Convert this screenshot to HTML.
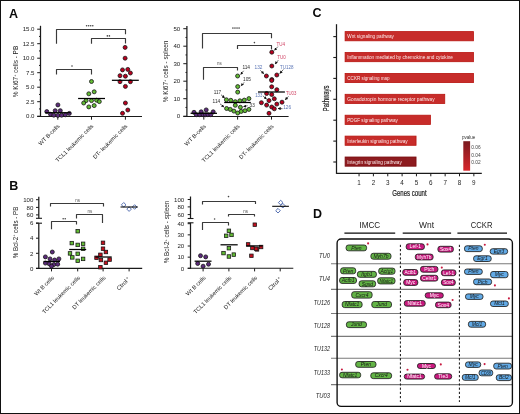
<!DOCTYPE html>
<html><head><meta charset="utf-8"><style>
html,body{margin:0;padding:0;background:#fff;}
body{width:520px;height:414px;overflow:hidden;}
svg{display:block;font-family:"Liberation Sans", sans-serif;will-change:transform;}
</style></head><body>
<svg width="520" height="414" viewBox="0 0 520 414">
<rect x="0" y="0" width="520" height="414" fill="#fff"/>
<defs><marker id="ah" viewBox="0 0 6 6" refX="5" refY="3" markerWidth="4.6" markerHeight="4.6" orient="auto"><path d="M0 0 L6 3 L0 6 Z" fill="#111"/></marker></defs>
<text x="9.0" y="17.6" font-size="12.5" text-anchor="start" fill="#0a0a0a" font-weight="bold">A</text>
<line x1="40.5" y1="25.8" x2="40.5" y2="116.7" stroke="#1a1a1a" stroke-width="1.25"/>
<line x1="37.2" y1="116.2" x2="40.5" y2="116.2" stroke="#1a1a1a" stroke-width="1.0"/>
<text x="34.5" y="118.4" font-size="6.1" text-anchor="end" fill="#222" >0.0</text>
<line x1="37.2" y1="101.7" x2="40.5" y2="101.7" stroke="#1a1a1a" stroke-width="1.0"/>
<text x="34.5" y="103.9" font-size="6.1" text-anchor="end" fill="#222" >2.5</text>
<line x1="37.2" y1="87.2" x2="40.5" y2="87.2" stroke="#1a1a1a" stroke-width="1.0"/>
<text x="34.5" y="89.4" font-size="6.1" text-anchor="end" fill="#222" >5.0</text>
<line x1="37.2" y1="72.7" x2="40.5" y2="72.7" stroke="#1a1a1a" stroke-width="1.0"/>
<text x="34.5" y="74.9" font-size="6.1" text-anchor="end" fill="#222" >7.5</text>
<line x1="37.2" y1="58.2" x2="40.5" y2="58.2" stroke="#1a1a1a" stroke-width="1.0"/>
<text x="34.5" y="60.400000000000006" font-size="6.1" text-anchor="end" fill="#222" >10.0</text>
<line x1="37.2" y1="43.7" x2="40.5" y2="43.7" stroke="#1a1a1a" stroke-width="1.0"/>
<text x="34.5" y="45.900000000000006" font-size="6.1" text-anchor="end" fill="#222" >12.5</text>
<line x1="37.2" y1="29.200000000000003" x2="40.5" y2="29.200000000000003" stroke="#1a1a1a" stroke-width="1.0"/>
<text x="34.5" y="31.400000000000002" font-size="6.1" text-anchor="end" fill="#222" >15.0</text>
<line x1="39.0" y1="108.95" x2="40.5" y2="108.95" stroke="#1a1a1a" stroke-width="1.0"/>
<line x1="39.0" y1="94.45" x2="40.5" y2="94.45" stroke="#1a1a1a" stroke-width="1.0"/>
<line x1="39.0" y1="79.95" x2="40.5" y2="79.95" stroke="#1a1a1a" stroke-width="1.0"/>
<line x1="39.0" y1="65.45" x2="40.5" y2="65.45" stroke="#1a1a1a" stroke-width="1.0"/>
<line x1="39.0" y1="50.95" x2="40.5" y2="50.95" stroke="#1a1a1a" stroke-width="1.0"/>
<line x1="39.0" y1="36.45" x2="40.5" y2="36.45" stroke="#1a1a1a" stroke-width="1.0"/>
<line x1="37.2" y1="116.5" x2="142" y2="116.5" stroke="#1a1a1a" stroke-width="1.1"/>
<line x1="57.8" y1="116.5" x2="57.8" y2="119.7" stroke="#1a1a1a" stroke-width="1.0"/>
<line x1="91.5" y1="116.5" x2="91.5" y2="119.7" stroke="#1a1a1a" stroke-width="1.0"/>
<line x1="125.4" y1="116.5" x2="125.4" y2="119.7" stroke="#1a1a1a" stroke-width="1.0"/>
<path d="M56.5 43.8 L56.5 29.5 L125.5 29.5 L125.5 34.2" fill="none" stroke="#3a3a3a" stroke-width="1.15" stroke-linejoin="round"/>
<path d="M91.5 43.8 L91.5 38.5 L125.5 38.5 L125.5 43.6" fill="none" stroke="#3a3a3a" stroke-width="1.15" stroke-linejoin="round"/>
<path d="M56.5 74.6 L56.5 69.5 L91.5 69.5 L91.5 74.6" fill="none" stroke="#3a3a3a" stroke-width="1.15" stroke-linejoin="round"/>
<circle cx="86.62" cy="25.7" r="0.8" fill="#444"/>
<circle cx="88.67" cy="25.7" r="0.8" fill="#444"/>
<circle cx="90.72" cy="25.7" r="0.8" fill="#444"/>
<circle cx="92.78" cy="25.7" r="0.8" fill="#444"/>
<circle cx="107.38" cy="35.9" r="0.8" fill="#444"/>
<circle cx="109.42" cy="35.9" r="0.8" fill="#444"/>
<circle cx="72.00" cy="66" r="0.8" fill="#444"/>
<circle cx="57.9" cy="104.9" r="2.0" fill="#5c2a7c" stroke="#161616" stroke-width="0.8"/>
<circle cx="55.2" cy="110.7" r="2.0" fill="#5c2a7c" stroke="#161616" stroke-width="0.8"/>
<circle cx="60.3" cy="110.7" r="2.0" fill="#5c2a7c" stroke="#161616" stroke-width="0.8"/>
<circle cx="46.8" cy="111.6" r="2.0" fill="#5c2a7c" stroke="#161616" stroke-width="0.8"/>
<circle cx="69.3" cy="113.4" r="2.0" fill="#5c2a7c" stroke="#161616" stroke-width="0.8"/>
<circle cx="50.5" cy="114.3" r="2.0" fill="#5c2a7c" stroke="#161616" stroke-width="0.8"/>
<circle cx="53.8" cy="115.2" r="2.0" fill="#5c2a7c" stroke="#161616" stroke-width="0.8"/>
<circle cx="57.9" cy="115.4" r="2.0" fill="#5c2a7c" stroke="#161616" stroke-width="0.8"/>
<circle cx="61.6" cy="115.2" r="2.0" fill="#5c2a7c" stroke="#161616" stroke-width="0.8"/>
<circle cx="65.3" cy="114.8" r="2.0" fill="#5c2a7c" stroke="#161616" stroke-width="0.8"/>
<line x1="45.1" y1="112.7" x2="70.7" y2="112.7" stroke="#000" stroke-width="1.25"/>
<circle cx="91.5" cy="81.5" r="2.0" fill="#62bb34" stroke="#161616" stroke-width="0.8"/>
<circle cx="88.8" cy="93.8" r="2.0" fill="#62bb34" stroke="#161616" stroke-width="0.8"/>
<circle cx="94.2" cy="91.8" r="2.0" fill="#62bb34" stroke="#161616" stroke-width="0.8"/>
<circle cx="86.1" cy="100.6" r="2.0" fill="#62bb34" stroke="#161616" stroke-width="0.8"/>
<circle cx="91.5" cy="100.6" r="2.0" fill="#62bb34" stroke="#161616" stroke-width="0.8"/>
<circle cx="96.6" cy="100.2" r="2.0" fill="#62bb34" stroke="#161616" stroke-width="0.8"/>
<circle cx="99.3" cy="101.6" r="2.0" fill="#62bb34" stroke="#161616" stroke-width="0.8"/>
<circle cx="83.7" cy="103" r="2.0" fill="#62bb34" stroke="#161616" stroke-width="0.8"/>
<circle cx="88.8" cy="106.9" r="2.0" fill="#62bb34" stroke="#161616" stroke-width="0.8"/>
<circle cx="94.2" cy="105.6" r="2.0" fill="#62bb34" stroke="#161616" stroke-width="0.8"/>
<line x1="78.1" y1="98.5" x2="105" y2="98.5" stroke="#000" stroke-width="1.25"/>
<circle cx="125.1" cy="47.4" r="2.0" fill="#b9001f" stroke="#161616" stroke-width="0.8"/>
<circle cx="125.1" cy="58.2" r="2.0" fill="#b9001f" stroke="#161616" stroke-width="0.8"/>
<circle cx="122.5" cy="69.9" r="2.0" fill="#b9001f" stroke="#161616" stroke-width="0.8"/>
<circle cx="127.8" cy="69.4" r="2.0" fill="#b9001f" stroke="#161616" stroke-width="0.8"/>
<circle cx="130.4" cy="73" r="2.0" fill="#b9001f" stroke="#161616" stroke-width="0.8"/>
<circle cx="120" cy="75.7" r="2.0" fill="#b9001f" stroke="#161616" stroke-width="0.8"/>
<circle cx="125.4" cy="76.2" r="2.0" fill="#b9001f" stroke="#161616" stroke-width="0.8"/>
<circle cx="120" cy="81.7" r="2.0" fill="#b9001f" stroke="#161616" stroke-width="0.8"/>
<circle cx="130.4" cy="81.7" r="2.0" fill="#b9001f" stroke="#161616" stroke-width="0.8"/>
<circle cx="125.4" cy="86.4" r="2.0" fill="#b9001f" stroke="#161616" stroke-width="0.8"/>
<circle cx="125.4" cy="103" r="2.0" fill="#b9001f" stroke="#161616" stroke-width="0.8"/>
<circle cx="127.8" cy="110" r="2.0" fill="#b9001f" stroke="#161616" stroke-width="0.8"/>
<circle cx="122.5" cy="113.3" r="2.0" fill="#b9001f" stroke="#161616" stroke-width="0.8"/>
<line x1="111.9" y1="80.3" x2="138.8" y2="80.3" stroke="#000" stroke-width="1.25"/>
<text transform="translate(18.2,71.5) rotate(-90)" font-size="7" text-anchor="middle" fill="#222" textLength="51.3" lengthAdjust="spacingAndGlyphs">% Ki67<tspan font-size="4" dy="-2.2">+</tspan><tspan dy="2.2"> cells - PB</tspan></text>
<text transform="translate(60,126.5) rotate(-45)" font-size="5.7" text-anchor="end" fill="#222">WT B-cells</text>
<text transform="translate(93.8,126.5) rotate(-45)" font-size="5.7" text-anchor="end" fill="#222">TCL1 leukemic cells</text>
<text transform="translate(127.8,126.5) rotate(-45)" font-size="5.7" text-anchor="end" fill="#222">DT- leukemic cells</text>
<line x1="186.9" y1="26" x2="186.9" y2="116.7" stroke="#1a1a1a" stroke-width="1.25"/>
<line x1="183.3" y1="116.2" x2="186.9" y2="116.2" stroke="#1a1a1a" stroke-width="1.0"/>
<text x="180.2" y="118.4" font-size="6.1" text-anchor="end" fill="#222" >0</text>
<line x1="183.3" y1="98.7" x2="186.9" y2="98.7" stroke="#1a1a1a" stroke-width="1.0"/>
<text x="180.2" y="100.9" font-size="6.1" text-anchor="end" fill="#222" >10</text>
<line x1="183.3" y1="81.2" x2="186.9" y2="81.2" stroke="#1a1a1a" stroke-width="1.0"/>
<text x="180.2" y="83.4" font-size="6.1" text-anchor="end" fill="#222" >20</text>
<line x1="183.3" y1="63.7" x2="186.9" y2="63.7" stroke="#1a1a1a" stroke-width="1.0"/>
<text x="180.2" y="65.9" font-size="6.1" text-anchor="end" fill="#222" >30</text>
<line x1="183.3" y1="46.2" x2="186.9" y2="46.2" stroke="#1a1a1a" stroke-width="1.0"/>
<text x="180.2" y="48.400000000000006" font-size="6.1" text-anchor="end" fill="#222" >40</text>
<line x1="183.3" y1="28.700000000000003" x2="186.9" y2="28.700000000000003" stroke="#1a1a1a" stroke-width="1.0"/>
<text x="180.2" y="30.900000000000002" font-size="6.1" text-anchor="end" fill="#222" >50</text>
<line x1="185.5" y1="107.45" x2="186.9" y2="107.45" stroke="#1a1a1a" stroke-width="1.0"/>
<line x1="185.5" y1="89.95" x2="186.9" y2="89.95" stroke="#1a1a1a" stroke-width="1.0"/>
<line x1="185.5" y1="72.45" x2="186.9" y2="72.45" stroke="#1a1a1a" stroke-width="1.0"/>
<line x1="185.5" y1="54.95" x2="186.9" y2="54.95" stroke="#1a1a1a" stroke-width="1.0"/>
<line x1="185.5" y1="37.45" x2="186.9" y2="37.45" stroke="#1a1a1a" stroke-width="1.0"/>
<line x1="183.3" y1="116.5" x2="288.6" y2="116.5" stroke="#1a1a1a" stroke-width="1.1"/>
<line x1="203.8" y1="116.5" x2="203.8" y2="119.6" stroke="#1a1a1a" stroke-width="1.0"/>
<line x1="237.6" y1="116.5" x2="237.6" y2="119.6" stroke="#1a1a1a" stroke-width="1.0"/>
<line x1="271.5" y1="116.5" x2="271.5" y2="119.6" stroke="#1a1a1a" stroke-width="1.0"/>
<path d="M202.5 48.6 L202.5 33.5 L271.5 33.5 L271.5 38.3" fill="none" stroke="#3a3a3a" stroke-width="1.15" stroke-linejoin="round"/>
<path d="M237.5 49 L237.5 45.5 L271.5 45.5 L271.5 49.3" fill="none" stroke="#3a3a3a" stroke-width="1.15" stroke-linejoin="round"/>
<path d="M203.5 79.8 L203.5 67.5 L237.5 67.5 L237.5 70.4" fill="none" stroke="#3a3a3a" stroke-width="1.15" stroke-linejoin="round"/>
<circle cx="232.93" cy="28.1" r="0.8" fill="#444"/>
<circle cx="234.98" cy="28.1" r="0.8" fill="#444"/>
<circle cx="237.03" cy="28.1" r="0.8" fill="#444"/>
<circle cx="239.08" cy="28.1" r="0.8" fill="#444"/>
<circle cx="254.40" cy="42.6" r="0.8" fill="#444"/>
<text x="219.3" y="64.5" font-size="4.5" text-anchor="middle" fill="#555" >ns</text>
<circle cx="194" cy="112.3" r="2.0" fill="#5c2a7c" stroke="#161616" stroke-width="0.8"/>
<circle cx="201.2" cy="111.8" r="2.0" fill="#5c2a7c" stroke="#161616" stroke-width="0.8"/>
<circle cx="206.2" cy="109.9" r="2.0" fill="#5c2a7c" stroke="#161616" stroke-width="0.8"/>
<circle cx="213.2" cy="111.8" r="2.0" fill="#5c2a7c" stroke="#161616" stroke-width="0.8"/>
<circle cx="196.3" cy="114.7" r="2.0" fill="#5c2a7c" stroke="#161616" stroke-width="0.8"/>
<circle cx="199.7" cy="114.7" r="2.0" fill="#5c2a7c" stroke="#161616" stroke-width="0.8"/>
<circle cx="203" cy="114.7" r="2.0" fill="#5c2a7c" stroke="#161616" stroke-width="0.8"/>
<circle cx="205.5" cy="114.7" r="2.0" fill="#5c2a7c" stroke="#161616" stroke-width="0.8"/>
<circle cx="207.9" cy="114.7" r="2.0" fill="#5c2a7c" stroke="#161616" stroke-width="0.8"/>
<circle cx="210.8" cy="114.7" r="2.0" fill="#5c2a7c" stroke="#161616" stroke-width="0.8"/>
<line x1="190.6" y1="113.3" x2="217" y2="113.3" stroke="#000" stroke-width="1.25"/>
<circle cx="237.7" cy="86.6" r="2.0" fill="#62bb34" stroke="#161616" stroke-width="0.8"/>
<circle cx="237.7" cy="92.1" r="2.0" fill="#62bb34" stroke="#161616" stroke-width="0.8"/>
<circle cx="226.4" cy="99.8" r="2.0" fill="#62bb34" stroke="#161616" stroke-width="0.8"/>
<circle cx="230.8" cy="100.3" r="2.0" fill="#62bb34" stroke="#161616" stroke-width="0.8"/>
<circle cx="235.3" cy="101.7" r="2.0" fill="#62bb34" stroke="#161616" stroke-width="0.8"/>
<circle cx="239.9" cy="100.8" r="2.0" fill="#62bb34" stroke="#161616" stroke-width="0.8"/>
<circle cx="244.3" cy="100.1" r="2.0" fill="#62bb34" stroke="#161616" stroke-width="0.8"/>
<circle cx="248.9" cy="98.6" r="2.0" fill="#62bb34" stroke="#161616" stroke-width="0.8"/>
<circle cx="235.3" cy="105.3" r="2.0" fill="#62bb34" stroke="#161616" stroke-width="0.8"/>
<circle cx="240.4" cy="107.3" r="2.0" fill="#62bb34" stroke="#161616" stroke-width="0.8"/>
<circle cx="226.6" cy="108.5" r="2.0" fill="#62bb34" stroke="#161616" stroke-width="0.8"/>
<circle cx="230.3" cy="109.4" r="2.0" fill="#62bb34" stroke="#161616" stroke-width="0.8"/>
<circle cx="233.9" cy="111.1" r="2.0" fill="#62bb34" stroke="#161616" stroke-width="0.8"/>
<circle cx="237.7" cy="113" r="2.0" fill="#62bb34" stroke="#161616" stroke-width="0.8"/>
<circle cx="241.2" cy="111.4" r="2.0" fill="#62bb34" stroke="#161616" stroke-width="0.8"/>
<circle cx="245" cy="110.7" r="2.0" fill="#62bb34" stroke="#161616" stroke-width="0.8"/>
<circle cx="248.9" cy="109.4" r="2.0" fill="#62bb34" stroke="#161616" stroke-width="0.8"/>
<circle cx="237.6" cy="76" r="2.0" fill="#62bb34" stroke="#161616" stroke-width="0.8"/>
<line x1="224.2" y1="102.5" x2="250.8" y2="102.5" stroke="#000" stroke-width="1.25"/>
<circle cx="271.8" cy="52.2" r="2.0" fill="#b9001f" stroke="#161616" stroke-width="0.8"/>
<circle cx="271.8" cy="66" r="2.0" fill="#b9001f" stroke="#161616" stroke-width="0.8"/>
<circle cx="276.8" cy="75" r="2.0" fill="#b9001f" stroke="#161616" stroke-width="0.8"/>
<circle cx="266.4" cy="76" r="2.0" fill="#b9001f" stroke="#161616" stroke-width="0.8"/>
<circle cx="271.8" cy="79.5" r="2.0" fill="#b9001f" stroke="#161616" stroke-width="0.8"/>
<circle cx="271.7" cy="86.8" r="2.0" fill="#b9001f" stroke="#161616" stroke-width="0.8"/>
<circle cx="276.8" cy="89.7" r="2.0" fill="#b9001f" stroke="#161616" stroke-width="0.8"/>
<circle cx="266.6" cy="93.5" r="2.0" fill="#b9001f" stroke="#161616" stroke-width="0.8"/>
<circle cx="271.7" cy="94.5" r="2.0" fill="#b9001f" stroke="#161616" stroke-width="0.8"/>
<circle cx="274.3" cy="98.8" r="2.0" fill="#b9001f" stroke="#161616" stroke-width="0.8"/>
<circle cx="269" cy="100.6" r="2.0" fill="#b9001f" stroke="#161616" stroke-width="0.8"/>
<circle cx="261.4" cy="102.7" r="2.0" fill="#b9001f" stroke="#161616" stroke-width="0.8"/>
<circle cx="282" cy="102.2" r="2.0" fill="#b9001f" stroke="#161616" stroke-width="0.8"/>
<circle cx="266.6" cy="105.1" r="2.0" fill="#b9001f" stroke="#161616" stroke-width="0.8"/>
<circle cx="276.8" cy="104.1" r="2.0" fill="#b9001f" stroke="#161616" stroke-width="0.8"/>
<circle cx="271.7" cy="107" r="2.0" fill="#b9001f" stroke="#161616" stroke-width="0.8"/>
<circle cx="274.3" cy="108.8" r="2.0" fill="#b9001f" stroke="#161616" stroke-width="0.8"/>
<circle cx="269" cy="113.3" r="2.0" fill="#b9001f" stroke="#161616" stroke-width="0.8"/>
<circle cx="271.7" cy="80.5" r="2.0" fill="#b9001f" stroke="#161616" stroke-width="0.8"/>
<line x1="258" y1="92" x2="284.9" y2="92" stroke="#000" stroke-width="1.25"/>
<text x="276.6" y="45.9" font-size="5" text-anchor="start" fill="#cf4062" textLength="8.50" lengthAdjust="spacingAndGlyphs">TU4</text>
<line x1="277.9" y1="46.6" x2="274.6" y2="50.2" stroke="#111" stroke-width="0.65" marker-end="url(#ah)"/>
<text x="277.3" y="59.0" font-size="5" text-anchor="start" fill="#cf4062" textLength="8.50" lengthAdjust="spacingAndGlyphs">TU0</text>
<line x1="278.3" y1="60.2" x2="275.2" y2="63.8" stroke="#111" stroke-width="0.65" marker-end="url(#ah)"/>
<text x="279.90000000000003" y="68.7" font-size="5" text-anchor="start" fill="#5b75b5" textLength="13.50" lengthAdjust="spacingAndGlyphs">TU128</text>
<line x1="283.4" y1="69.5" x2="279.9" y2="73.3" stroke="#111" stroke-width="0.65" marker-end="url(#ah)"/>
<text x="254.5" y="69.2" font-size="5" text-anchor="start" fill="#5b75b5" textLength="7.90" lengthAdjust="spacingAndGlyphs">132</text>
<line x1="260.4" y1="70.4" x2="263.7" y2="73.7" stroke="#111" stroke-width="0.65" marker-end="url(#ah)"/>
<text x="285.90000000000003" y="95.2" font-size="5" text-anchor="start" fill="#cf4062" textLength="10.50" lengthAdjust="spacingAndGlyphs">TU03</text>
<line x1="288.5" y1="96.4" x2="285.3" y2="99.7" stroke="#111" stroke-width="0.65" marker-end="url(#ah)"/>
<text x="255.20000000000002" y="97.4" font-size="5" text-anchor="start" fill="#5b75b5" textLength="7.20" lengthAdjust="spacingAndGlyphs">133</text>
<line x1="263.1" y1="96" x2="266.4" y2="99" stroke="#111" stroke-width="0.65" marker-end="url(#ah)"/>
<text x="283.2" y="108.9" font-size="5" text-anchor="start" fill="#5b75b5" textLength="7.90" lengthAdjust="spacingAndGlyphs">126</text>
<line x1="282.5" y1="108.7" x2="278.2" y2="108.5" stroke="#111" stroke-width="0.65" marker-end="url(#ah)"/>
<text x="242.4" y="69.2" font-size="5" text-anchor="start" fill="#2a2a2a" textLength="7.60" lengthAdjust="spacingAndGlyphs">114</text>
<line x1="243.6" y1="70.8" x2="240.8" y2="74.4" stroke="#111" stroke-width="0.65" marker-end="url(#ah)"/>
<text x="243.0" y="81.1" font-size="5" text-anchor="start" fill="#2a2a2a" textLength="7.90" lengthAdjust="spacingAndGlyphs">105</text>
<line x1="244.1" y1="82.4" x2="241.2" y2="85.7" stroke="#111" stroke-width="0.65" marker-end="url(#ah)"/>
<text x="213.8" y="94.3" font-size="5" text-anchor="start" fill="#2a2a2a" textLength="7.40" lengthAdjust="spacingAndGlyphs">117</text>
<line x1="221" y1="94.7" x2="224.5" y2="97.9" stroke="#111" stroke-width="0.65" marker-end="url(#ah)"/>
<text x="212.60000000000002" y="103.4" font-size="5" text-anchor="start" fill="#2a2a2a" textLength="7.60" lengthAdjust="spacingAndGlyphs">114</text>
<line x1="220" y1="103.8" x2="223.8" y2="106.9" stroke="#111" stroke-width="0.65" marker-end="url(#ah)"/>
<text x="249.60000000000002" y="107.3" font-size="5" text-anchor="start" fill="#2a2a2a" textLength="5.20" lengthAdjust="spacingAndGlyphs">33</text>
<line x1="247.6" y1="105.7" x2="243.6" y2="106.7" stroke="#111" stroke-width="0.65" marker-end="url(#ah)"/>
<text transform="translate(168.2,71.5) rotate(-90)" font-size="7" text-anchor="middle" fill="#222" textLength="61.6" lengthAdjust="spacingAndGlyphs">% Ki67<tspan font-size="4" dy="-2.2">+</tspan><tspan dy="2.2"> cells - spleen</tspan></text>
<text transform="translate(206.2,126.8) rotate(-45)" font-size="5.7" text-anchor="end" fill="#222">WT B-cells</text>
<text transform="translate(240,126.8) rotate(-45)" font-size="5.7" text-anchor="end" fill="#222">TCL1 leukemic cells</text>
<text transform="translate(273.9,126.8) rotate(-45)" font-size="5.7" text-anchor="end" fill="#222">DT- leukemic cells</text>
<text x="312.6" y="17.4" font-size="12.5" text-anchor="start" fill="#0a0a0a" font-weight="bold">C</text>
<line x1="336.5" y1="24.2" x2="336.5" y2="173.9" stroke="#1a1a1a" stroke-width="1.25"/>
<line x1="333.3" y1="36.6" x2="336.5" y2="36.6" stroke="#1a1a1a" stroke-width="1.1"/>
<rect x="345.1" y="31.6" width="128.35" height="9.2" fill="#c72c2a" stroke="#b8140f" stroke-width="0.8"/>
<text x="347.3" y="38.1" font-size="5.4" text-anchor="start" fill="#fbeaea" textLength="46.5" lengthAdjust="spacingAndGlyphs">Wnt signaling pathway</text>
<line x1="333.3" y1="57.5" x2="336.5" y2="57.5" stroke="#1a1a1a" stroke-width="1.1"/>
<rect x="345.1" y="52.5" width="128.35" height="9.2" fill="#c72c2a" stroke="#b8140f" stroke-width="0.8"/>
<text x="347.3" y="59.0" font-size="5.4" text-anchor="start" fill="#fbeaea" textLength="105.7" lengthAdjust="spacingAndGlyphs">Inflammation mediated by chemokine and cytokine</text>
<line x1="333.3" y1="78.4" x2="336.5" y2="78.4" stroke="#1a1a1a" stroke-width="1.1"/>
<rect x="345.1" y="73.4" width="128.35" height="9.2" fill="#c72c2a" stroke="#b8140f" stroke-width="0.8"/>
<text x="347.3" y="79.9" font-size="5.4" text-anchor="start" fill="#fbeaea" textLength="42.3" lengthAdjust="spacingAndGlyphs">CCKR signaling map</text>
<line x1="333.3" y1="99.30000000000001" x2="336.5" y2="99.30000000000001" stroke="#1a1a1a" stroke-width="1.1"/>
<rect x="345.1" y="94.30000000000001" width="99.65" height="9.2" fill="#c72c2a" stroke="#b8140f" stroke-width="0.8"/>
<text x="347.3" y="100.80000000000001" font-size="5.4" text-anchor="start" fill="#fbeaea" textLength="87.3" lengthAdjust="spacingAndGlyphs">Gonadotropin hormone receptor pathway</text>
<line x1="333.3" y1="120.2" x2="336.5" y2="120.2" stroke="#1a1a1a" stroke-width="1.1"/>
<rect x="345.1" y="115.2" width="85.30" height="9.2" fill="#c72c2a" stroke="#b8140f" stroke-width="0.8"/>
<text x="347.3" y="121.7" font-size="5.4" text-anchor="start" fill="#fbeaea" textLength="50.6" lengthAdjust="spacingAndGlyphs">PDGF signaling pathway</text>
<line x1="333.3" y1="141.1" x2="336.5" y2="141.1" stroke="#1a1a1a" stroke-width="1.1"/>
<rect x="345.1" y="136.1" width="70.95" height="9.2" fill="#c72c2a" stroke="#b8140f" stroke-width="0.8"/>
<text x="347.3" y="142.6" font-size="5.4" text-anchor="start" fill="#fbeaea" textLength="60.3" lengthAdjust="spacingAndGlyphs">Interleukin signaling pathway</text>
<line x1="333.3" y1="162.0" x2="336.5" y2="162.0" stroke="#1a1a1a" stroke-width="1.1"/>
<rect x="345.1" y="157.0" width="70.95" height="9.2" fill="#8d1b1f" stroke="#7a0d10" stroke-width="0.8"/>
<text x="347.3" y="163.5" font-size="5.4" text-anchor="start" fill="#fbeaea" textLength="54.5" lengthAdjust="spacingAndGlyphs">Integrin signaling pathway</text>
<line x1="336.5" y1="173.3" x2="481.8" y2="173.3" stroke="#1a1a1a" stroke-width="1.2"/>
<line x1="359.05" y1="173.3" x2="359.05" y2="176.3" stroke="#1a1a1a" stroke-width="1.0"/>
<text x="359.05" y="185" font-size="6.3" text-anchor="middle" fill="#1e1e1e" >1</text>
<line x1="373.4" y1="173.3" x2="373.4" y2="176.3" stroke="#1a1a1a" stroke-width="1.0"/>
<text x="373.4" y="185" font-size="6.3" text-anchor="middle" fill="#1e1e1e" >2</text>
<line x1="387.75" y1="173.3" x2="387.75" y2="176.3" stroke="#1a1a1a" stroke-width="1.0"/>
<text x="387.75" y="185" font-size="6.3" text-anchor="middle" fill="#1e1e1e" >3</text>
<line x1="402.09999999999997" y1="173.3" x2="402.09999999999997" y2="176.3" stroke="#1a1a1a" stroke-width="1.0"/>
<text x="402.09999999999997" y="185" font-size="6.3" text-anchor="middle" fill="#1e1e1e" >4</text>
<line x1="416.45" y1="173.3" x2="416.45" y2="176.3" stroke="#1a1a1a" stroke-width="1.0"/>
<text x="416.45" y="185" font-size="6.3" text-anchor="middle" fill="#1e1e1e" >5</text>
<line x1="430.79999999999995" y1="173.3" x2="430.79999999999995" y2="176.3" stroke="#1a1a1a" stroke-width="1.0"/>
<text x="430.79999999999995" y="185" font-size="6.3" text-anchor="middle" fill="#1e1e1e" >6</text>
<line x1="445.15" y1="173.3" x2="445.15" y2="176.3" stroke="#1a1a1a" stroke-width="1.0"/>
<text x="445.15" y="185" font-size="6.3" text-anchor="middle" fill="#1e1e1e" >7</text>
<line x1="459.5" y1="173.3" x2="459.5" y2="176.3" stroke="#1a1a1a" stroke-width="1.0"/>
<text x="459.5" y="185" font-size="6.3" text-anchor="middle" fill="#1e1e1e" >8</text>
<line x1="473.85" y1="173.3" x2="473.85" y2="176.3" stroke="#1a1a1a" stroke-width="1.0"/>
<text x="473.85" y="185" font-size="6.3" text-anchor="middle" fill="#1e1e1e" >9</text>
<text x="409.4" y="196.2" font-size="8.7" text-anchor="middle" fill="#1e1e1e" textLength="34.5" lengthAdjust="spacingAndGlyphs" stroke="#1e1e1e" stroke-width="0.22">Genes count</text>
<text transform="translate(328.5,98.4) rotate(-90)" font-size="8.2" text-anchor="middle" fill="#1e1e1e" stroke="#1e1e1e" stroke-width="0.2" textLength="25.5" lengthAdjust="spacingAndGlyphs">Pathways</text>
<defs><linearGradient id="pg" x1="0" y1="0" x2="0" y2="1"><stop offset="0" stop-color="#7a1a1f"/><stop offset="1" stop-color="#d8262c"/></linearGradient></defs>
<rect x="463.3" y="141.2" width="6.8" height="29.5" fill="url(#pg)"/>
<text x="461.9" y="139.3" font-size="5" text-anchor="start" fill="#333" textLength="13.5" lengthAdjust="spacingAndGlyphs">pvalue</text>
<text x="471.2" y="149.4" font-size="5.2" text-anchor="start" fill="#444" textLength="9.4" lengthAdjust="spacingAndGlyphs">0.06</text>
<text x="471.2" y="156.70000000000002" font-size="5.2" text-anchor="start" fill="#444" textLength="9.4" lengthAdjust="spacingAndGlyphs">0.04</text>
<text x="471.2" y="164.0" font-size="5.2" text-anchor="start" fill="#444" textLength="9.4" lengthAdjust="spacingAndGlyphs">0.02</text>
<text x="9.2" y="189.7" font-size="12.5" text-anchor="start" fill="#0a0a0a" font-weight="bold">B</text>
<line x1="38.8" y1="196.8" x2="38.8" y2="218.3" stroke="#1a1a1a" stroke-width="1.25"/>
<line x1="38.8" y1="223.2" x2="38.8" y2="268.9" stroke="#1a1a1a" stroke-width="1.25"/>
<line x1="36" y1="218.3" x2="42" y2="218.3" stroke="#1a1a1a" stroke-width="1.1"/>
<line x1="36" y1="223.2" x2="42" y2="223.2" stroke="#1a1a1a" stroke-width="1.1"/>
<line x1="36" y1="199.7" x2="38.8" y2="199.7" stroke="#1a1a1a" stroke-width="1.0"/>
<text x="33.3" y="201.89999999999998" font-size="6.1" text-anchor="end" fill="#222" >100</text>
<line x1="36" y1="207.4" x2="38.8" y2="207.4" stroke="#1a1a1a" stroke-width="1.0"/>
<text x="33.3" y="209.6" font-size="6.1" text-anchor="end" fill="#222" >80</text>
<line x1="36" y1="214.9" x2="38.8" y2="214.9" stroke="#1a1a1a" stroke-width="1.0"/>
<text x="33.3" y="217.1" font-size="6.1" text-anchor="end" fill="#222" >60</text>
<line x1="36" y1="268.4" x2="38.8" y2="268.4" stroke="#1a1a1a" stroke-width="1.0"/>
<text x="33.3" y="270.59999999999997" font-size="6.1" text-anchor="end" fill="#222" >0</text>
<line x1="36" y1="253.29999999999998" x2="38.8" y2="253.29999999999998" stroke="#1a1a1a" stroke-width="1.0"/>
<text x="33.3" y="255.49999999999997" font-size="6.1" text-anchor="end" fill="#222" >2</text>
<line x1="36" y1="238.2" x2="38.8" y2="238.2" stroke="#1a1a1a" stroke-width="1.0"/>
<text x="33.3" y="240.39999999999998" font-size="6.1" text-anchor="end" fill="#222" >4</text>
<line x1="36" y1="223.09999999999997" x2="38.8" y2="223.09999999999997" stroke="#1a1a1a" stroke-width="1.0"/>
<text x="33.3" y="225.29999999999995" font-size="6.1" text-anchor="end" fill="#222" >6</text>
<line x1="36" y1="268.4" x2="142.2" y2="268.4" stroke="#1a1a1a" stroke-width="1.1"/>
<line x1="51.5" y1="268.4" x2="51.5" y2="271.4" stroke="#1a1a1a" stroke-width="1.0"/>
<line x1="77.7" y1="268.4" x2="77.7" y2="271.4" stroke="#1a1a1a" stroke-width="1.0"/>
<line x1="103.1" y1="268.4" x2="103.1" y2="271.4" stroke="#1a1a1a" stroke-width="1.0"/>
<line x1="129.1" y1="268.4" x2="129.1" y2="271.4" stroke="#1a1a1a" stroke-width="1.0"/>
<path d="M50.5 206.4 L50.5 203.5 L103.5 203.5 L103.5 206.4" fill="none" stroke="#3a3a3a" stroke-width="1.15" stroke-linejoin="round"/>
<path d="M76.5 218.5 L76.5 214.5 L102.5 214.5 L102.5 223" fill="none" stroke="#3a3a3a" stroke-width="1.15" stroke-linejoin="round"/>
<path d="M51.5 229.2 L51.5 221.5 L76.5 221.5 L76.5 224.6" fill="none" stroke="#3a3a3a" stroke-width="1.15" stroke-linejoin="round"/>
<text x="77.7" y="201.5" font-size="4.5" text-anchor="middle" fill="#555" >ns</text>
<text x="90" y="212.7" font-size="4.5" text-anchor="middle" fill="#555" >ns</text>
<circle cx="63.18" cy="218.7" r="0.8" fill="#444"/>
<circle cx="65.23" cy="218.7" r="0.8" fill="#444"/>
<circle cx="52.3" cy="252" r="2.0" fill="#5c2a7c" stroke="#161616" stroke-width="0.8"/>
<circle cx="45.4" cy="256.9" r="2.0" fill="#5c2a7c" stroke="#161616" stroke-width="0.8"/>
<circle cx="50" cy="258.9" r="2.0" fill="#5c2a7c" stroke="#161616" stroke-width="0.8"/>
<circle cx="54.6" cy="260" r="2.0" fill="#5c2a7c" stroke="#161616" stroke-width="0.8"/>
<circle cx="58.9" cy="258.9" r="2.0" fill="#5c2a7c" stroke="#161616" stroke-width="0.8"/>
<circle cx="45.4" cy="263.1" r="2.0" fill="#5c2a7c" stroke="#161616" stroke-width="0.8"/>
<circle cx="49.2" cy="263.8" r="2.0" fill="#5c2a7c" stroke="#161616" stroke-width="0.8"/>
<circle cx="53.8" cy="264.6" r="2.0" fill="#5c2a7c" stroke="#161616" stroke-width="0.8"/>
<circle cx="57.7" cy="264.2" r="2.0" fill="#5c2a7c" stroke="#161616" stroke-width="0.8"/>
<circle cx="51.5" cy="266.2" r="2.0" fill="#5c2a7c" stroke="#161616" stroke-width="0.8"/>
<line x1="43.5" y1="261.5" x2="60" y2="261.5" stroke="#000" stroke-width="1.25"/>
<rect x="75.95" y="229.45" width="3.5" height="3.5" fill="#62bb34" stroke="#141414" stroke-width="0.75"/>
<rect x="70.05" y="241.35" width="3.5" height="3.5" fill="#62bb34" stroke="#141414" stroke-width="0.75"/>
<rect x="75.95" y="243.15" width="3.5" height="3.5" fill="#62bb34" stroke="#141414" stroke-width="0.75"/>
<rect x="81.35" y="242.05" width="3.5" height="3.5" fill="#62bb34" stroke="#141414" stroke-width="0.75"/>
<rect x="81.35" y="247.05" width="3.5" height="3.5" fill="#62bb34" stroke="#141414" stroke-width="0.75"/>
<rect x="68.25" y="251.65" width="3.5" height="3.5" fill="#62bb34" stroke="#141414" stroke-width="0.75"/>
<rect x="75.95" y="252.05" width="3.5" height="3.5" fill="#62bb34" stroke="#141414" stroke-width="0.75"/>
<rect x="70.55" y="255.64999999999998" width="3.5" height="3.5" fill="#62bb34" stroke="#141414" stroke-width="0.75"/>
<rect x="75.95" y="259.05" width="3.5" height="3.5" fill="#62bb34" stroke="#141414" stroke-width="0.75"/>
<rect x="81.35" y="257.15" width="3.5" height="3.5" fill="#62bb34" stroke="#141414" stroke-width="0.75"/>
<line x1="69.2" y1="249.5" x2="86.2" y2="249.5" stroke="#000" stroke-width="1.25"/>
<rect x="101.25" y="241.05" width="3.5" height="3.5" fill="#c0101e" stroke="#141414" stroke-width="0.75"/>
<rect x="101.25" y="246.95" width="3.5" height="3.5" fill="#c0101e" stroke="#141414" stroke-width="0.75"/>
<rect x="104.15" y="250.25" width="3.5" height="3.5" fill="#c0101e" stroke="#141414" stroke-width="0.75"/>
<rect x="98.65" y="253.05" width="3.5" height="3.5" fill="#c0101e" stroke="#141414" stroke-width="0.75"/>
<rect x="94.75" y="256.05" width="3.5" height="3.5" fill="#c0101e" stroke="#141414" stroke-width="0.75"/>
<rect x="107.85" y="257.85" width="3.5" height="3.5" fill="#c0101e" stroke="#141414" stroke-width="0.75"/>
<rect x="99.15" y="258.25" width="3.5" height="3.5" fill="#c0101e" stroke="#141414" stroke-width="0.75"/>
<rect x="104.15" y="261.05" width="3.5" height="3.5" fill="#c0101e" stroke="#141414" stroke-width="0.75"/>
<rect x="98.65" y="265.45" width="3.5" height="3.5" fill="#c0101e" stroke="#141414" stroke-width="0.75"/>
<line x1="95.4" y1="257" x2="111.7" y2="257" stroke="#000" stroke-width="1.25"/>
<path d="M123.7 202.5 L126.0 204.8 L123.7 207.10000000000002 L121.4 204.8 Z" fill="#fff" stroke="#2f4f9f" stroke-width="0.8"/>
<path d="M129.1 206.79999999999998 L131.4 209.1 L129.1 211.4 L126.8 209.1 Z" fill="#fff" stroke="#2f4f9f" stroke-width="0.8"/>
<path d="M134.6 204.7 L136.9 207 L134.6 209.3 L132.29999999999998 207 Z" fill="#fff" stroke="#2f4f9f" stroke-width="0.8"/>
<line x1="120.5" y1="207" x2="137.8" y2="207" stroke="#000" stroke-width="1.05"/>
<text transform="translate(17.6,232.4) rotate(-90)" font-size="7" text-anchor="middle" fill="#222" textLength="51.5" lengthAdjust="spacingAndGlyphs">% Bcl-2<tspan font-size="4" dy="-2.2">+</tspan><tspan dy="2.2"> cells - PB</tspan></text>
<text transform="translate(54.4,278.2) rotate(-45)" font-size="5.7" text-anchor="end" fill="#222">Wt B cells</text>
<text transform="translate(80.4,278.2) rotate(-45)" font-size="5.7" text-anchor="end" fill="#222">TCL1 leukemic cells</text>
<text transform="translate(105.9,278.2) rotate(-45)" font-size="5.7" text-anchor="end" fill="#222">DT leukemic cells</text>
<text transform="translate(130.4,279.4) rotate(-45)" font-size="6.0" text-anchor="end" fill="#222">Ctrol<tspan font-size="4" dy="-2"> +</tspan></text>
<line x1="190.5" y1="196.5" x2="190.5" y2="218.5" stroke="#1a1a1a" stroke-width="1.25"/>
<line x1="190.5" y1="222.8" x2="190.5" y2="268.8" stroke="#1a1a1a" stroke-width="1.25"/>
<line x1="187.7" y1="218.5" x2="193.5" y2="218.5" stroke="#1a1a1a" stroke-width="1.1"/>
<line x1="187.7" y1="222.8" x2="193.5" y2="222.8" stroke="#1a1a1a" stroke-width="1.1"/>
<line x1="187.7" y1="199.5" x2="190.5" y2="199.5" stroke="#1a1a1a" stroke-width="1.0"/>
<text x="184.2" y="201.7" font-size="6.1" text-anchor="end" fill="#222" >100</text>
<line x1="187.7" y1="206.9" x2="190.5" y2="206.9" stroke="#1a1a1a" stroke-width="1.0"/>
<text x="184.2" y="209.1" font-size="6.1" text-anchor="end" fill="#222" >80</text>
<line x1="187.7" y1="214.6" x2="190.5" y2="214.6" stroke="#1a1a1a" stroke-width="1.0"/>
<text x="184.2" y="216.79999999999998" font-size="6.1" text-anchor="end" fill="#222" >60</text>
<line x1="187.7" y1="268.3" x2="190.5" y2="268.3" stroke="#1a1a1a" stroke-width="1.0"/>
<text x="184.2" y="270.5" font-size="6.1" text-anchor="end" fill="#222" >0</text>
<line x1="187.7" y1="257.15000000000003" x2="190.5" y2="257.15000000000003" stroke="#1a1a1a" stroke-width="1.0"/>
<text x="184.2" y="259.35" font-size="6.1" text-anchor="end" fill="#222" >10</text>
<line x1="187.7" y1="246.0" x2="190.5" y2="246.0" stroke="#1a1a1a" stroke-width="1.0"/>
<text x="184.2" y="248.2" font-size="6.1" text-anchor="end" fill="#222" >20</text>
<line x1="187.7" y1="234.85000000000002" x2="190.5" y2="234.85000000000002" stroke="#1a1a1a" stroke-width="1.0"/>
<text x="184.2" y="237.05" font-size="6.1" text-anchor="end" fill="#222" >30</text>
<line x1="187.7" y1="223.70000000000002" x2="190.5" y2="223.70000000000002" stroke="#1a1a1a" stroke-width="1.0"/>
<text x="184.2" y="225.9" font-size="6.1" text-anchor="end" fill="#222" >40</text>
<line x1="187.7" y1="268.3" x2="293.3" y2="268.3" stroke="#1a1a1a" stroke-width="1.1"/>
<line x1="203.1" y1="268.3" x2="203.1" y2="271.4" stroke="#1a1a1a" stroke-width="1.0"/>
<line x1="228.9" y1="268.3" x2="228.9" y2="271.4" stroke="#1a1a1a" stroke-width="1.0"/>
<line x1="254.6" y1="268.3" x2="254.6" y2="271.4" stroke="#1a1a1a" stroke-width="1.0"/>
<line x1="280.2" y1="268.3" x2="280.2" y2="271.4" stroke="#1a1a1a" stroke-width="1.0"/>
<path d="M202.5 204.6 L202.5 201.5 L255.5 201.5 L255.5 204.1" fill="none" stroke="#3a3a3a" stroke-width="1.15" stroke-linejoin="round"/>
<path d="M228.5 216.5 L228.5 214.5 L254.5 214.5 L254.5 216.5" fill="none" stroke="#3a3a3a" stroke-width="1.15" stroke-linejoin="round"/>
<path d="M202.5 230 L202.5 222.5 L228.5 222.5 L228.5 225.4" fill="none" stroke="#3a3a3a" stroke-width="1.15" stroke-linejoin="round"/>
<circle cx="228.50" cy="196.6" r="0.8" fill="#444"/>
<text x="245.7" y="212.7" font-size="4.5" text-anchor="middle" fill="#555" >ns</text>
<circle cx="214.60" cy="219" r="0.8" fill="#444"/>
<circle cx="200.5" cy="255.7" r="2.0" fill="#5c2a7c" stroke="#161616" stroke-width="0.8"/>
<circle cx="205.7" cy="256.9" r="2.0" fill="#5c2a7c" stroke="#161616" stroke-width="0.8"/>
<circle cx="197.7" cy="263.5" r="2.0" fill="#5c2a7c" stroke="#161616" stroke-width="0.8"/>
<circle cx="203.1" cy="266.2" r="2.0" fill="#5c2a7c" stroke="#161616" stroke-width="0.8"/>
<circle cx="208.5" cy="264.2" r="2.0" fill="#5c2a7c" stroke="#161616" stroke-width="0.8"/>
<line x1="194.6" y1="261.2" x2="211.5" y2="261.2" stroke="#000" stroke-width="1.25"/>
<rect x="227.15" y="229.05" width="3.5" height="3.5" fill="#62bb34" stroke="#141414" stroke-width="0.75"/>
<rect x="224.45" y="234.05" width="3.5" height="3.5" fill="#62bb34" stroke="#141414" stroke-width="0.75"/>
<rect x="229.75" y="233.15" width="3.5" height="3.5" fill="#62bb34" stroke="#141414" stroke-width="0.75"/>
<rect x="227.15" y="246.45" width="3.5" height="3.5" fill="#62bb34" stroke="#141414" stroke-width="0.75"/>
<rect x="221.75" y="251.35" width="3.5" height="3.5" fill="#62bb34" stroke="#141414" stroke-width="0.75"/>
<rect x="232.05" y="252.85" width="3.5" height="3.5" fill="#62bb34" stroke="#141414" stroke-width="0.75"/>
<rect x="227.15" y="254.75" width="3.5" height="3.5" fill="#62bb34" stroke="#141414" stroke-width="0.75"/>
<line x1="220.5" y1="244.8" x2="237.7" y2="244.8" stroke="#000" stroke-width="1.25"/>
<rect x="253.05" y="222.95" width="3.5" height="3.5" fill="#c0101e" stroke="#141414" stroke-width="0.75"/>
<rect x="246.35" y="242.65" width="3.5" height="3.5" fill="#c0101e" stroke="#141414" stroke-width="0.75"/>
<rect x="250.65" y="246.25" width="3.5" height="3.5" fill="#c0101e" stroke="#141414" stroke-width="0.75"/>
<rect x="255.25" y="247.65" width="3.5" height="3.5" fill="#c0101e" stroke="#141414" stroke-width="0.75"/>
<rect x="259.35" y="245.25" width="3.5" height="3.5" fill="#c0101e" stroke="#141414" stroke-width="0.75"/>
<rect x="249.65" y="254.05" width="3.5" height="3.5" fill="#c0101e" stroke="#141414" stroke-width="0.75"/>
<rect x="254.45" y="247.05" width="3.5" height="3.5" fill="#c0101e" stroke="#141414" stroke-width="0.75"/>
<line x1="246.3" y1="245.9" x2="262.5" y2="245.9" stroke="#000" stroke-width="1.25"/>
<path d="M280.7 200.29999999999998 L283.0 202.6 L280.7 204.9 L278.4 202.6 Z" fill="#fff" stroke="#2f4f9f" stroke-width="0.8"/>
<path d="M282.8 203.39999999999998 L285.1 205.7 L282.8 208.0 L280.5 205.7 Z" fill="#fff" stroke="#2f4f9f" stroke-width="0.8"/>
<path d="M278 208.39999999999998 L280.3 210.7 L278 213.0 L275.7 210.7 Z" fill="#fff" stroke="#2f4f9f" stroke-width="0.8"/>
<line x1="272.2" y1="206.3" x2="288.9" y2="206.3" stroke="#000" stroke-width="1.05"/>
<text transform="translate(169.4,232) rotate(-90)" font-size="7" text-anchor="middle" fill="#222" textLength="62.5" lengthAdjust="spacingAndGlyphs">% Bcl-2<tspan font-size="4" dy="-2.2">+</tspan><tspan dy="2.2"> cells - spleen</tspan></text>
<text transform="translate(206,278.2) rotate(-45)" font-size="5.7" text-anchor="end" fill="#222">Wt B cells</text>
<text transform="translate(231.8,278.2) rotate(-45)" font-size="5.7" text-anchor="end" fill="#222">TCL1 leukemic cells</text>
<text transform="translate(257.5,278.2) rotate(-45)" font-size="5.7" text-anchor="end" fill="#222">DT leukemic cells</text>
<text transform="translate(281.9,279.4) rotate(-45)" font-size="6.0" text-anchor="end" fill="#222">Ctrol<tspan font-size="4" dy="-2"> +</tspan></text>
<text x="312.9" y="218.1" font-size="12.5" text-anchor="start" fill="#0a0a0a" font-weight="bold">D</text>
<text x="369.8" y="227.8" font-size="8.9" text-anchor="middle" fill="#1a1a1a" textLength="20.8" lengthAdjust="spacingAndGlyphs">IMCC</text>
<text x="426.5" y="227.8" font-size="8.9" text-anchor="middle" fill="#1a1a1a" textLength="15" lengthAdjust="spacingAndGlyphs">Wnt</text>
<text x="481.6" y="227.8" font-size="8.9" text-anchor="middle" fill="#1a1a1a" textLength="21.6" lengthAdjust="spacingAndGlyphs">CCKR</text>
<line x1="344.4" y1="233.2" x2="395.2" y2="233.2" stroke="#0a0a0a" stroke-width="1.3"/>
<line x1="402.7" y1="233.2" x2="451.1" y2="233.2" stroke="#0a0a0a" stroke-width="1.3"/>
<line x1="457.4" y1="233.2" x2="507" y2="233.2" stroke="#0a0a0a" stroke-width="1.3"/>
<line x1="331" y1="263.8" x2="512.4" y2="263.8" stroke="#7a7a7a" stroke-width="1.1"/>
<line x1="331" y1="289.4" x2="512.4" y2="289.4" stroke="#7a7a7a" stroke-width="1.1"/>
<line x1="331" y1="313.5" x2="512.4" y2="313.5" stroke="#7a7a7a" stroke-width="1.1"/>
<line x1="331" y1="336.4" x2="512.4" y2="336.4" stroke="#7a7a7a" stroke-width="1.1"/>
<line x1="331" y1="358.2" x2="512.4" y2="358.2" stroke="#7a7a7a" stroke-width="1.1"/>
<line x1="331" y1="384.6" x2="512.4" y2="384.6" stroke="#7a7a7a" stroke-width="1.1"/>
<line x1="400.4" y1="244.8" x2="400.4" y2="402" stroke="#111" stroke-width="1" stroke-dasharray="2.2,2"/>
<line x1="459.4" y1="244.8" x2="459.4" y2="402" stroke="#111" stroke-width="1" stroke-dasharray="2.2,2"/>
<rect x="337.1" y="239" width="175.3" height="167.4" rx="4" fill="none" stroke="#0d0d0d" stroke-width="1.35"/>
<text x="330" y="257.7" font-size="6.6" text-anchor="end" fill="#222" font-style="italic" textLength="10.96" lengthAdjust="spacingAndGlyphs">TU0</text>
<text x="330" y="281.0" font-size="6.6" text-anchor="end" fill="#222" font-style="italic" textLength="10.96" lengthAdjust="spacingAndGlyphs">TU4</text>
<text x="330" y="304.7" font-size="6.6" text-anchor="end" fill="#222" font-style="italic" textLength="16.30" lengthAdjust="spacingAndGlyphs">TU126</text>
<text x="330" y="327.90000000000003" font-size="6.6" text-anchor="end" fill="#222" font-style="italic" textLength="16.30" lengthAdjust="spacingAndGlyphs">TU128</text>
<text x="330" y="351.3" font-size="6.6" text-anchor="end" fill="#222" font-style="italic" textLength="16.30" lengthAdjust="spacingAndGlyphs">TU132</text>
<text x="330" y="374.6" font-size="6.6" text-anchor="end" fill="#222" font-style="italic" textLength="16.30" lengthAdjust="spacingAndGlyphs">TU133</text>
<text x="330" y="398.3" font-size="6.6" text-anchor="end" fill="#222" font-style="italic" textLength="14.26" lengthAdjust="spacingAndGlyphs">TU03</text>
<rect x="346.1" y="245" width="20.50" height="5.80" rx="2.4" fill="#63b446" stroke="#1c1c1c" stroke-width="0.85"/>
<text x="356.35" y="249.60" font-size="5" font-style="italic" text-anchor="middle" fill="#151515" textLength="10.28" lengthAdjust="spacingAndGlyphs">Pten</text>
<rect x="370.9" y="253.3" width="20.10" height="5.90" rx="2.4" fill="#63b446" stroke="#1c1c1c" stroke-width="0.85"/>
<text x="380.95" y="257.95" font-size="5" font-style="italic" text-anchor="middle" fill="#151515" textLength="14.98" lengthAdjust="spacingAndGlyphs">Myh7b</text>
<rect x="340.6" y="267.8" width="15.10" height="6.00" rx="2.4" fill="#63b446" stroke="#1c1c1c" stroke-width="0.85"/>
<text x="348.15" y="272.50" font-size="5" font-style="italic" text-anchor="middle" fill="#151515" textLength="10.28" lengthAdjust="spacingAndGlyphs">Pten</text>
<rect x="357.4" y="271.4" width="19.00" height="5.90" rx="2.4" fill="#63b446" stroke="#1c1c1c" stroke-width="0.85"/>
<text x="366.90" y="276.05" font-size="5" font-style="italic" text-anchor="middle" fill="#151515" textLength="11.11" lengthAdjust="spacingAndGlyphs">Itgb1</text>
<rect x="378.7" y="268.1" width="16.30" height="6.10" rx="2.4" fill="#63b446" stroke="#1c1c1c" stroke-width="0.85"/>
<text x="386.85" y="272.85" font-size="5" font-style="italic" text-anchor="middle" fill="#151515" textLength="12.70" lengthAdjust="spacingAndGlyphs">Actg1</text>
<rect x="339.6" y="277.5" width="16.90" height="5.90" rx="2.4" fill="#63b446" stroke="#1c1c1c" stroke-width="0.85"/>
<text x="348.05" y="282.15" font-size="5" font-style="italic" text-anchor="middle" fill="#151515" textLength="12.77" lengthAdjust="spacingAndGlyphs">Actb1</text>
<rect x="359.1" y="280.8" width="16.50" height="6.00" rx="2.4" fill="#63b446" stroke="#1c1c1c" stroke-width="0.85"/>
<text x="367.35" y="285.50" font-size="5" font-style="italic" text-anchor="middle" fill="#151515" textLength="11.37" lengthAdjust="spacingAndGlyphs">Sgsd</text>
<rect x="377.7" y="277.8" width="17.30" height="6.10" rx="2.4" fill="#63b446" stroke="#1c1c1c" stroke-width="0.85"/>
<text x="386.35" y="282.55" font-size="5" font-style="italic" text-anchor="middle" fill="#151515" textLength="13.70" lengthAdjust="spacingAndGlyphs">Nfatc1</text>
<rect x="351.7" y="291.7" width="20.40" height="6.40" rx="2.4" fill="#63b446" stroke="#1c1c1c" stroke-width="0.85"/>
<text x="361.90" y="296.60" font-size="5" font-style="italic" text-anchor="middle" fill="#151515" textLength="13.03" lengthAdjust="spacingAndGlyphs">Cxcr4</text>
<rect x="342.2" y="301.5" width="19.90" height="6.10" rx="2.4" fill="#63b446" stroke="#1c1c1c" stroke-width="0.85"/>
<text x="352.15" y="306.25" font-size="5" font-style="italic" text-anchor="middle" fill="#151515" textLength="14.43" lengthAdjust="spacingAndGlyphs">Nfatc1</text>
<rect x="371.8" y="301.5" width="19.70" height="6.10" rx="2.4" fill="#63b446" stroke="#1c1c1c" stroke-width="0.85"/>
<text x="381.65" y="306.25" font-size="5" font-style="italic" text-anchor="middle" fill="#151515" textLength="10.82" lengthAdjust="spacingAndGlyphs">Jund</text>
<rect x="346.4" y="321.8" width="20.10" height="5.80" rx="2.4" fill="#63b446" stroke="#1c1c1c" stroke-width="0.85"/>
<text x="356.45" y="326.40" font-size="5" font-style="italic" text-anchor="middle" fill="#151515" textLength="10.82" lengthAdjust="spacingAndGlyphs">Jund</text>
<rect x="355.7" y="361.5" width="20.30" height="5.80" rx="2.4" fill="#63b446" stroke="#1c1c1c" stroke-width="0.85"/>
<text x="365.85" y="366.10" font-size="5" font-style="italic" text-anchor="middle" fill="#151515" textLength="10.28" lengthAdjust="spacingAndGlyphs">Pten</text>
<rect x="339.6" y="372.3" width="21.10" height="5.50" rx="2.4" fill="#63b446" stroke="#1c1c1c" stroke-width="0.85"/>
<text x="350.15" y="376.75" font-size="5" font-style="italic" text-anchor="middle" fill="#151515" textLength="14.43" lengthAdjust="spacingAndGlyphs">Nfatc1</text>
<rect x="370.8" y="372.8" width="20.80" height="5.80" rx="2.4" fill="#63b446" stroke="#1c1c1c" stroke-width="0.85"/>
<text x="381.20" y="377.40" font-size="5" font-style="italic" text-anchor="middle" fill="#151515" textLength="13.03" lengthAdjust="spacingAndGlyphs">Cxcr4</text>
<rect x="406.2" y="243.8" width="18.20" height="5.80" rx="2.4" fill="#c8197e" stroke="#1c1c1c" stroke-width="0.85"/>
<text x="415.30" y="248.40" font-size="5" font-style="normal" text-anchor="middle" fill="#fff" textLength="11.37" lengthAdjust="spacingAndGlyphs">Lef-1</text>
<rect x="437.9" y="246.3" width="15.50" height="5.80" rx="2.4" fill="#c8197e" stroke="#1c1c1c" stroke-width="0.85"/>
<text x="445.65" y="250.90" font-size="5" font-style="normal" text-anchor="middle" fill="#fff" textLength="11.37" lengthAdjust="spacingAndGlyphs">Sox4</text>
<rect x="415.3" y="254.1" width="17.80" height="5.80" rx="2.4" fill="#c8197e" stroke="#1c1c1c" stroke-width="0.85"/>
<text x="424.20" y="258.70" font-size="5" font-style="normal" text-anchor="middle" fill="#fff" textLength="14.20" lengthAdjust="spacingAndGlyphs">Myh7b</text>
<rect x="420.5" y="266.4" width="17.40" height="5.80" rx="2.4" fill="#c8197e" stroke="#1c1c1c" stroke-width="0.85"/>
<text x="429.20" y="271.00" font-size="5" font-style="normal" text-anchor="middle" fill="#fff" textLength="9.99" lengthAdjust="spacingAndGlyphs">Ptch</text>
<rect x="402.7" y="269.5" width="15.10" height="5.80" rx="2.4" fill="#c8197e" stroke="#1c1c1c" stroke-width="0.85"/>
<text x="410.25" y="274.10" font-size="5" font-style="normal" text-anchor="middle" fill="#fff" textLength="11.50" lengthAdjust="spacingAndGlyphs">Actb1</text>
<rect x="441.4" y="269.9" width="14.50" height="5.80" rx="2.4" fill="#c8197e" stroke="#1c1c1c" stroke-width="0.85"/>
<text x="448.65" y="274.50" font-size="5" font-style="normal" text-anchor="middle" fill="#fff" textLength="10.90" lengthAdjust="spacingAndGlyphs">Lef-1</text>
<rect x="420.5" y="275.3" width="17.40" height="5.80" rx="2.4" fill="#c8197e" stroke="#1c1c1c" stroke-width="0.85"/>
<text x="429.20" y="279.90" font-size="5" font-style="normal" text-anchor="middle" fill="#fff" textLength="13.80" lengthAdjust="spacingAndGlyphs">Celsr1</text>
<rect x="403.7" y="279.6" width="14.10" height="5.80" rx="2.4" fill="#c8197e" stroke="#1c1c1c" stroke-width="0.85"/>
<text x="410.75" y="284.20" font-size="5" font-style="normal" text-anchor="middle" fill="#fff" textLength="9.14" lengthAdjust="spacingAndGlyphs">Myc</text>
<rect x="441.4" y="279.6" width="13.90" height="5.80" rx="2.4" fill="#c8197e" stroke="#1c1c1c" stroke-width="0.85"/>
<text x="448.35" y="284.20" font-size="5" font-style="normal" text-anchor="middle" fill="#fff" textLength="10.30" lengthAdjust="spacingAndGlyphs">Sox4</text>
<rect x="425.2" y="292.8" width="18.10" height="5.30" rx="2.4" fill="#c8197e" stroke="#1c1c1c" stroke-width="0.85"/>
<text x="434.25" y="297.15" font-size="5" font-style="normal" text-anchor="middle" fill="#fff" textLength="9.14" lengthAdjust="spacingAndGlyphs">Myc</text>
<rect x="404.3" y="300.6" width="20.90" height="5.60" rx="2.4" fill="#c8197e" stroke="#1c1c1c" stroke-width="0.85"/>
<text x="414.75" y="305.10" font-size="5" font-style="normal" text-anchor="middle" fill="#fff" textLength="14.43" lengthAdjust="spacingAndGlyphs">Nfatc1</text>
<rect x="435.5" y="302.1" width="15.60" height="5.60" rx="2.4" fill="#c8197e" stroke="#1c1c1c" stroke-width="0.85"/>
<text x="443.30" y="306.60" font-size="5" font-style="normal" text-anchor="middle" fill="#fff" textLength="11.37" lengthAdjust="spacingAndGlyphs">Sox4</text>
<rect x="417.4" y="363.5" width="18.10" height="5.00" rx="2.4" fill="#c8197e" stroke="#1c1c1c" stroke-width="0.85"/>
<text x="426.45" y="367.70" font-size="5" font-style="normal" text-anchor="middle" fill="#fff" textLength="9.14" lengthAdjust="spacingAndGlyphs">Myc</text>
<rect x="404.3" y="374.1" width="20.30" height="5.00" rx="2.4" fill="#c8197e" stroke="#1c1c1c" stroke-width="0.85"/>
<text x="414.45" y="378.30" font-size="5" font-style="normal" text-anchor="middle" fill="#fff" textLength="14.43" lengthAdjust="spacingAndGlyphs">Nfatc1</text>
<rect x="434.6" y="373.8" width="17.10" height="5.30" rx="2.4" fill="#c8197e" stroke="#1c1c1c" stroke-width="0.85"/>
<text x="443.15" y="378.15" font-size="5" font-style="normal" text-anchor="middle" fill="#fff" textLength="9.71" lengthAdjust="spacingAndGlyphs">Tle3</text>
<rect x="464.5" y="245.8" width="17.80" height="5.80" rx="2.4" fill="#62aae6" stroke="#1c1c1c" stroke-width="0.85"/>
<text x="473.40" y="250.40" font-size="5" font-style="italic" text-anchor="middle" fill="#151515" textLength="10.28" lengthAdjust="spacingAndGlyphs">Pten</text>
<rect x="490.2" y="248.7" width="17.40" height="5.40" rx="2.4" fill="#62aae6" stroke="#1c1c1c" stroke-width="0.85"/>
<text x="498.90" y="253.10" font-size="5" font-style="italic" text-anchor="middle" fill="#151515" textLength="10.54" lengthAdjust="spacingAndGlyphs">Egr3</text>
<rect x="473.6" y="255.8" width="17.60" height="5.70" rx="2.4" fill="#62aae6" stroke="#1c1c1c" stroke-width="0.85"/>
<text x="482.40" y="260.35" font-size="5" font-style="italic" text-anchor="middle" fill="#151515" textLength="10.54" lengthAdjust="spacingAndGlyphs">Egr1</text>
<rect x="464.5" y="269" width="17.80" height="5.40" rx="2.4" fill="#62aae6" stroke="#1c1c1c" stroke-width="0.85"/>
<text x="473.40" y="273.40" font-size="5" font-style="italic" text-anchor="middle" fill="#151515" textLength="10.28" lengthAdjust="spacingAndGlyphs">Pten</text>
<rect x="490.6" y="271.5" width="17.40" height="6.20" rx="2.4" fill="#62aae6" stroke="#1c1c1c" stroke-width="0.85"/>
<text x="499.30" y="276.30" font-size="5" font-style="italic" text-anchor="middle" fill="#151515" textLength="9.14" lengthAdjust="spacingAndGlyphs">Myc</text>
<rect x="473.6" y="279" width="18.00" height="5.70" rx="2.4" fill="#62aae6" stroke="#1c1c1c" stroke-width="0.85"/>
<text x="482.60" y="283.55" font-size="5" font-style="italic" text-anchor="middle" fill="#151515" textLength="9.99" lengthAdjust="spacingAndGlyphs">Ptch</text>
<rect x="465.5" y="293.9" width="17.50" height="5.50" rx="2.4" fill="#62aae6" stroke="#1c1c1c" stroke-width="0.85"/>
<text x="474.25" y="298.35" font-size="5" font-style="italic" text-anchor="middle" fill="#151515" textLength="9.14" lengthAdjust="spacingAndGlyphs">Myc</text>
<rect x="490.5" y="301" width="17.80" height="5.50" rx="2.4" fill="#62aae6" stroke="#1c1c1c" stroke-width="0.85"/>
<text x="499.40" y="305.45" font-size="5" font-style="italic" text-anchor="middle" fill="#151515" textLength="10.54" lengthAdjust="spacingAndGlyphs">Mcl1</text>
<rect x="468.4" y="321.4" width="17.20" height="5.80" rx="2.4" fill="#62aae6" stroke="#1c1c1c" stroke-width="0.85"/>
<text x="477.00" y="326.00" font-size="5" font-style="italic" text-anchor="middle" fill="#151515" textLength="10.54" lengthAdjust="spacingAndGlyphs">Mcl1</text>
<rect x="465.5" y="361.9" width="15.20" height="5.50" rx="2.4" fill="#62aae6" stroke="#1c1c1c" stroke-width="0.85"/>
<text x="473.10" y="366.35" font-size="5" font-style="italic" text-anchor="middle" fill="#151515" textLength="9.14" lengthAdjust="spacingAndGlyphs">Myc</text>
<rect x="493.7" y="363.2" width="17.80" height="5.80" rx="2.4" fill="#62aae6" stroke="#1c1c1c" stroke-width="0.85"/>
<text x="502.60" y="367.80" font-size="5" font-style="italic" text-anchor="middle" fill="#151515" textLength="10.28" lengthAdjust="spacingAndGlyphs">Pten</text>
<rect x="479.1" y="370" width="13.60" height="5.80" rx="2.4" fill="#62aae6" stroke="#1c1c1c" stroke-width="0.85"/>
<text x="485.90" y="374.60" font-size="5" font-style="italic" text-anchor="middle" fill="#151515" textLength="10.00" lengthAdjust="spacingAndGlyphs">CD38</text>
<rect x="462.3" y="374.5" width="15.90" height="5.80" rx="2.4" fill="#62aae6" stroke="#1c1c1c" stroke-width="0.85"/>
<text x="470.25" y="379.10" font-size="5" font-style="italic" text-anchor="middle" fill="#151515" textLength="10.54" lengthAdjust="spacingAndGlyphs">Mcl1</text>
<rect x="496.3" y="374.8" width="15.20" height="5.80" rx="2.4" fill="#62aae6" stroke="#1c1c1c" stroke-width="0.85"/>
<text x="503.90" y="379.40" font-size="5" font-style="italic" text-anchor="middle" fill="#151515" textLength="9.71" lengthAdjust="spacingAndGlyphs">Bcl2</text>
<circle cx="368.1" cy="243.4" r="1.05" fill="#c81a40"/>
<circle cx="341.9" cy="369.5" r="1.05" fill="#c81a40"/>
<circle cx="427.5" cy="244.4" r="1.05" fill="#c81a40"/>
<circle cx="441.8" cy="267.6" r="1.05" fill="#c81a40"/>
<circle cx="452.6" cy="300" r="1.05" fill="#c81a40"/>
<circle cx="440.8" cy="364.4" r="1.05" fill="#c81a40"/>
<circle cx="407.5" cy="369.7" r="1.05" fill="#c81a40"/>
<circle cx="484.8" cy="244.8" r="1.05" fill="#c81a40"/>
<circle cx="494.9" cy="285.4" r="1.05" fill="#c81a40"/>
<circle cx="508.9" cy="298.4" r="1.05" fill="#c81a40"/>
<circle cx="484.6" cy="364.1" r="1.05" fill="#c81a40"/>
<rect x="0.5" y="0.5" width="519" height="413" fill="none" stroke="#111" stroke-width="1"/>
</svg>
</body></html>
